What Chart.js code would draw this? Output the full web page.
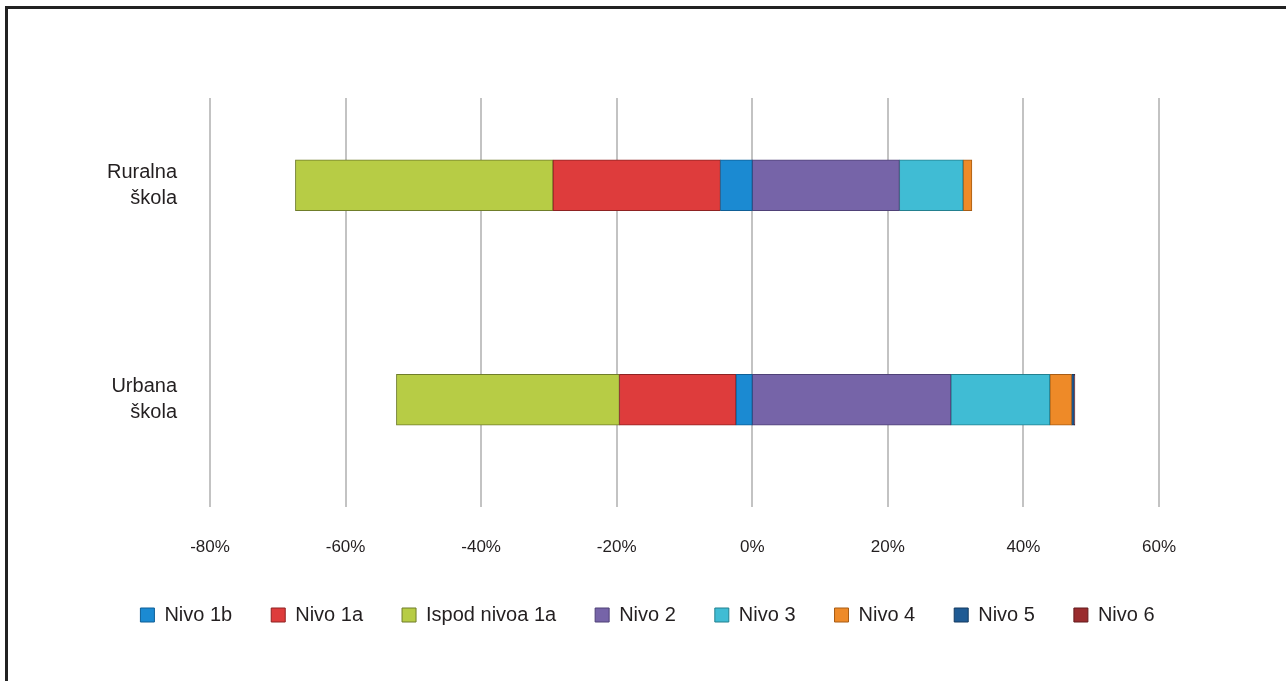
<!DOCTYPE html>
<html>
<head>
<meta charset="utf-8">
<script src="https://cdn.jsdelivr.net/npm/chart.js@4"></script>
<style>
  html, body { margin: 0; padding: 0; background: #fff; overflow: hidden; }
  #wrap { position: relative; width: 1286px; height: 681px; }
  #frame {
    position: absolute; left: 5px; top: 6px; right: -10px; bottom: -10px;
    border: 3px solid #222; pointer-events: none;
  }
</style>
</head>
<body>
<div id="wrap">
  <canvas id="chart" width="1286" height="681"></canvas>
  <div id="frame"></div>
</div>
<script>
// categories (y axis)
const schools = [['Ruralna', 'škola'], ['Urbana', 'škola']];

// x axis ticks
const tickValues = [-80, -60, -40, -20, 0, 20, 40, 60];

// series values, in % (levels below 2 are negative)
const nivo1b = [-4.7, -2.4];
const nivo1a = [-24.7, -17.2];
const ispodNivoa1a = [-38.0, -32.9];
const nivo2 = [21.7, 29.3];
const nivo3 = [9.4, 14.6];
const nivo4 = [1.3, 3.2];
const nivo5 = [0.0, 0.4];
const nivo6 = [0.0, 0.1];

const series = [
    { label: 'Nivo 1b', data: nivo1b, color: '#1b8ad2', edge: '#0f5f96' },
    { label: 'Nivo 1a', data: nivo1a, color: '#de3c3c', edge: '#8e2222' },
    { label: 'Ispod nivoa 1a', data: ispodNivoa1a, color: '#b7cc45', edge: '#6f7d2a' },
    { label: 'Nivo 2', data: nivo2, color: '#7664a8', edge: '#4f4177' },
    { label: 'Nivo 3', data: nivo3, color: '#40bcd4', edge: '#23808f' },
    { label: 'Nivo 4', data: nivo4, color: '#ee8a28', edge: '#a85c14' },
    { label: 'Nivo 5', data: nivo5, color: '#1f5b94', edge: '#143b61' },
    { label: 'Nivo 6', data: nivo6, color: '#9a2c2e', edge: '#631b1c' }
];

const ctx = document.getElementById('chart').getContext('2d');

// vertical grid lines, starting a bit below the top of the plot area
const gridPlugin = {
    id: 'grid',
    beforeDatasetsDraw(chart) {
        const x = chart.scales.x;
        const area = chart.chartArea;
        const c = chart.ctx;
        c.save();
        c.strokeStyle = '#c3c3c3';
        c.lineWidth = 2;
        x.ticks.forEach(t => {
            const px = Math.round(x.getPixelForValue(t.value));
            c.beginPath();
            c.moveTo(px, area.top + 20);
            c.lineTo(px, area.bottom);
            c.stroke();
        });
        c.restore();
    }
};

const chart = new Chart(ctx, {
    type: 'bar',
    data: {
        labels: schools,
        datasets: series.map(s => ({
            label: s.label,
            data: s.data,
            backgroundColor: s.color,
            borderColor: s.edge,
            borderWidth: 1,
            borderSkipped: false,
            barThickness: 51
        }))
    },
    options: {
        indexAxis: 'y',
        responsive: false,
        animation: false,
        layout: { padding: { top: 78, right: 0, bottom: 46, left: 9 } },
        scales: {
            x: {
                stacked: true,
                min: -80,
                max: 60,
                afterBuildTicks(scale) {
                    scale.ticks = tickValues.map(v => ({ value: v }));
                },
                afterFit(scale) { scale.height = 59; },
                grid: { display: false, drawTicks: false },
                border: { display: false },
                ticks: {
                    padding: 30,
                    color: '#231f20',
                    font: { family: 'Liberation Sans, Arial, sans-serif', size: 17 },
                    callback: v => v + '%'
                }
            },
            y: {
                stacked: true,
                grid: { display: false, drawTicks: false },
                border: { display: false },
                afterFit(scale) { scale.width = 201; },
                ticks: {
                    padding: 33,
                    color: '#231f20',
                    font: { family: 'Liberation Sans, Arial, sans-serif', size: 20, lineHeight: 1.28 }
                }
            },
            // empty axis on the right, only to reserve space
            yR: {
                type: 'category',
                position: 'right',
                grid: { display: false, drawTicks: false },
                border: { display: false },
                ticks: { display: false },
                afterFit(scale) { scale.width = 127; }
            }
        },
        plugins: {
            legend: {
                position: 'bottom',
                labels: {
                    boxWidth: 14,
                    boxHeight: 14,
                    padding: 39,
                    color: '#231f20',
                    font: { family: 'Liberation Sans, Arial, sans-serif', size: 20 }
                }
            },
            tooltip: { enabled: false }
        }
    },
    plugins: [gridPlugin]
});
</script>
</body>
</html>
